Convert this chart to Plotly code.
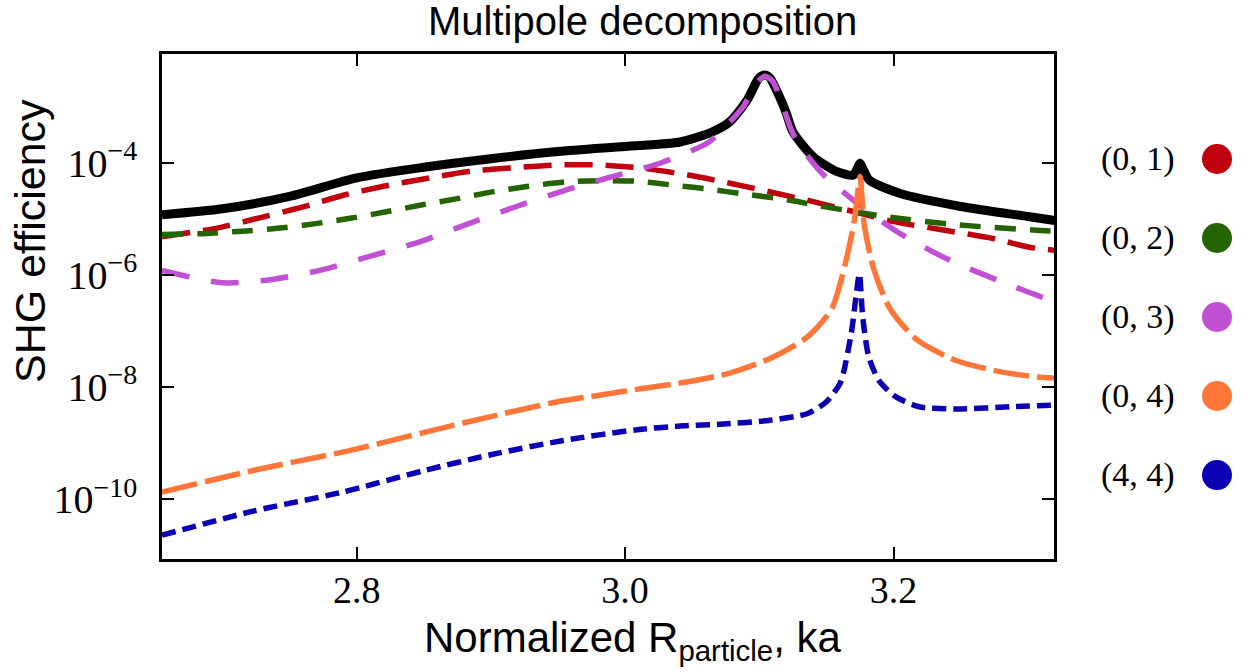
import plotly.graph_objects as go

# ---------------- data ----------------
total_x = [2.655, 2.70, 2.75, 2.80, 2.85, 2.90, 2.95, 3.00, 3.041, 3.065, 3.078, 3.091, 3.098,
           3.100, 3.103, 3.106, 3.108, 3.115, 3.12, 3.125, 3.140, 3.158, 3.170, 3.173, 3.175,
           3.177, 3.182, 3.205, 3.25, 3.30, 3.32]
total_y = [1.18e-5, 1.51e-5, 2.51e-5, 5.37e-5, 8.32e-5, 1.18e-4, 1.58e-4, 1.95e-4, 2.34e-4,
           3.55e-4, 5.37e-4, 1.32e-3, 2.82e-3, 3.31e-3, 3.63e-3, 3.55e-3, 3.24e-3, 1.51e-3,
           7.76e-4, 3.55e-4, 1.29e-4, 6.92e-5, 6.03e-5, 7.94e-5, 9.77e-5, 7.94e-5, 4.90e-5,
           2.82e-5, 1.66e-5, 1.10e-5, 9.33e-6]

m01_x = [2.655, 2.695, 2.726, 2.758, 2.790, 2.820, 2.852, 2.885, 2.917, 2.949, 2.982, 3.014,
         3.047, 3.079, 3.110, 3.141, 3.19, 3.20, 3.237, 3.274, 3.302, 3.32]
m01_y = [4.79e-6, 6.76e-6, 1.02e-5, 1.58e-5, 2.63e-5, 3.80e-5, 5.25e-5, 7.08e-5, 8.13e-5,
         9.12e-5, 9.12e-5, 7.94e-5, 6.03e-5, 4.27e-5, 2.95e-5, 2.00e-5, 1.02e-5, 8.91e-6,
         6.31e-6, 4.47e-6, 3.09e-6, 2.75e-6]

m02_x = [2.655, 2.688, 2.715, 2.741, 2.768, 2.795, 2.823, 2.849, 2.875, 2.901, 2.928, 2.956,
         2.982, 3.009, 3.036, 3.062, 3.086, 3.123, 3.145, 3.197, 3.249, 3.304, 3.32]
m02_y = [5.25e-6, 5.50e-6, 6.03e-6, 6.76e-6, 8.13e-6, 1.02e-5, 1.35e-5, 1.78e-5, 2.29e-5,
         3.02e-5, 3.80e-5, 4.57e-5, 4.79e-5, 4.68e-5, 3.98e-5, 3.39e-5, 2.82e-5, 2.14e-5,
         1.70e-5, 1.07e-5, 7.76e-6, 6.31e-6, 6.03e-6]

m03_x = [2.655, 2.700, 2.737, 2.774, 2.811, 2.847, 2.883, 2.919, 2.954, 2.990, 3.027, 3.062,
         3.075, 3.088, 3.098, 3.104, 3.110, 3.115, 3.125, 3.135, 3.148, 3.177, 3.208, 3.242,
         3.277, 3.311, 3.32]
m03_y = [1.20e-6, 7.24e-7, 8.32e-7, 1.23e-6, 2.19e-6, 3.89e-6, 8.13e-6, 1.66e-5, 3.16e-5,
         5.62e-5, 1.00e-4, 2.29e-4, 4.47e-4, 1.00e-3, 2.63e-3, 3.47e-3, 2.82e-3, 1.51e-3,
         3.31e-4, 1.41e-4, 6.03e-5, 1.58e-5, 4.90e-6, 1.82e-6, 8.13e-7, 3.98e-7, 3.39e-7]

m04_x = [2.655, 2.728, 2.793, 2.855, 2.899, 2.950, 2.982, 3.014, 3.046, 3.078, 3.108, 3.136,
         3.154, 3.164, 3.171, 3.175, 3.178, 3.185, 3.197, 3.217, 3.246, 3.278, 3.307, 3.32]
m04_y = [1.35e-10, 3.47e-10, 7.24e-10, 1.66e-9, 2.95e-9, 5.50e-9, 7.24e-9, 9.55e-9, 1.23e-8,
         1.78e-8, 3.24e-8, 7.94e-8, 2.51e-7, 1.58e-6, 1.02e-5, 5.62e-5, 8.32e-6, 1.32e-6,
         2.57e-7, 7.08e-8, 3.02e-8, 1.91e-8, 1.51e-8, 1.45e-8]

m44_x = [2.655, 2.723, 2.788, 2.850, 2.899, 2.954, 3.009, 3.043, 3.073, 3.108, 3.136, 3.150,
         3.160, 3.1625, 3.1685, 3.172, 3.1745, 3.177, 3.1815, 3.189, 3.2015, 3.219, 3.249,
         3.287, 3.32]
m44_y = [2.29e-11, 6.17e-11, 1.32e-10, 3.24e-10, 6.17e-10, 1.12e-9, 1.74e-9, 2.04e-9, 2.19e-9,
         2.57e-9, 3.39e-9, 5.50e-9, 1.15e-8, 1.74e-8, 9.12e-8, 4.07e-7, 1.05e-6, 1.78e-7,
         3.47e-8, 1.32e-8, 6.76e-9, 4.47e-9, 4.07e-9, 4.47e-9, 4.79e-9]

legend_labels = ["(0, 1)", "(0, 2)", "(0, 3)", "(0, 4)", "(4, 4)"]
legend_colors = ["#c0000f", "#246400", "#c250d5", "#ff7638", "#0c00b4"]

x_tickvals = [2.8, 3.0, 3.2]
x_ticktext = ["2.8", "3.0", "3.2"]
y_tickvals = [1e-10, 1e-8, 1e-6, 1e-4]
y_ticktext = ["10<sup>−10</sup>", "10<sup>−8</sup>", "10<sup>−6</sup>", "10<sup>−4</sup>"]

# ---------------- figure ----------------
W, H = 1248, 672
ML, MR, MT, MB = 162, 10, 54, 113
PW = W - ML - MR
PH = H - MT - MB
PLOT_W = 892

serif = "Liberation Serif"
sans = "Liberation Sans"

fig = go.Figure()

fig.add_trace(go.Scatter(x=total_x, y=total_y, mode="lines",
                         line=dict(color="black", width=9, shape="spline", smoothing=0.7),
                         showlegend=False))
series = [
    (m01_x, m01_y, legend_colors[0], "28px,13px"),
    (m02_x, m02_y, legend_colors[1], "21px,14px"),
    (m03_x, m03_y, legend_colors[2], "28px,22px"),
    (m04_x, m04_y, legend_colors[3], "36px,8px"),
    (m44_x, m44_y, legend_colors[4], "14px,7px"),
]
for xs, ys, col, dash in series:
    fig.add_trace(go.Scatter(x=xs, y=ys, mode="lines",
                             line=dict(color=col, width=5.5, dash=dash,
                                       shape="spline", smoothing=0.7),
                             showlegend=False))

# legend drawn on a hidden overlay axis in the right margin area
fig.add_trace(go.Scatter(x=[0.878] * len(legend_labels), y=list(range(len(legend_labels))),
                         mode="markers", xaxis="x2", yaxis="y2",
                         marker=dict(size=30, color=legend_colors, line=dict(width=0)),
                         showlegend=False))
for i, lab in enumerate(legend_labels):
    fig.add_annotation(x=0.42, y=i, xref="x2", yref="y2", text=lab, showarrow=False,
                       xanchor="center", yanchor="middle",
                       font=dict(family=serif, size=34, color="black"))

axis_common = dict(showgrid=False, zeroline=False, showline=True, linecolor="black",
                   linewidth=2.5, mirror="allticks", ticks="inside", ticklen=12,
                   tickwidth=2, tickcolor="black", automargin=False)

fig.update_layout(
    template="none",
    width=W, height=H,
    margin=dict(l=ML, r=MR, t=MT, b=MB, autoexpand=False),
    paper_bgcolor="white", plot_bgcolor="white",
    xaxis=dict(domain=[0, PLOT_W / PW], range=[2.655, 3.3195],
               tickvals=x_tickvals, ticktext=x_ticktext,
               tickfont=dict(family=serif, size=38, color="black"),
               ticklabelstandoff=-4, **axis_common),
    yaxis=dict(type="log", range=[-11.064, -2.062],
               tickvals=y_tickvals, ticktext=y_ticktext,
               tickfont=dict(family=serif, size=40, color="black"),
               ticklabelstandoff=14, **axis_common),
    xaxis2=dict(domain=[0.84, 1.0], range=[0, 1], anchor="y2", visible=False,
                automargin=False),
    yaxis2=dict(domain=[0, 1], range=[5.063, -1.329], anchor="x2", visible=False,
                automargin=False),
)

def px_x(p):
    return (p - ML) / PW

def px_y(p):
    return (H - MB - p) / PH

fig.add_annotation(x=px_x(642), y=px_y(21), xref="paper", yref="paper",
                   text="Multipole decomposition", showarrow=False,
                   xanchor="center", yanchor="middle",
                   font=dict(family=sans, size=40, color="black"))
fig.add_annotation(x=px_x(632), y=px_y(640), xref="paper", yref="paper",
                   text="Normalized R<sub>particle</sub>, ka", showarrow=False,
                   xanchor="center", yanchor="middle",
                   font=dict(family=sans, size=42, color="black"))
fig.add_annotation(x=px_x(30), y=px_y(241), xref="paper", yref="paper",
                   text="SHG efficiency", showarrow=False, textangle=-90,
                   xanchor="center", yanchor="middle",
                   font=dict(family=sans, size=43, color="black"))

fig.write_html("out.html", config={"displayModeBar": False},
               post_script="document.body.style.margin='0';document.body.style.padding='0';")
